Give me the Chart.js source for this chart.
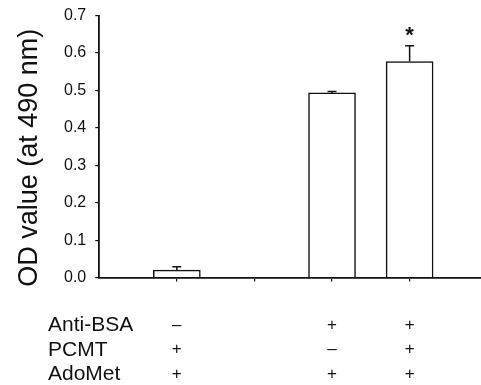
<!DOCTYPE html>
<html>
<head>
<meta charset="utf-8">
<script src="https://cdn.jsdelivr.net/npm/chart.js@4/dist/chart.umd.min.js"></script>
<style>
html,body{margin:0;padding:0;background:#fff;overflow:hidden;}
#wrap{width:481px;height:385px;position:relative;}
</style>
</head>
<body>
<div id="wrap"><canvas id="c" width="481" height="385"></canvas></div>
<script>
// ---- data ----
const groups = ['G1', 'G2', 'G3', 'G4'];
const odValues = [0.02, null, 0.493, 0.577];
const odErrors = [0.009, null, 0.004, 0.042];
const significance = ['', '', '', '*'];
const rowLabels = ['Anti-BSA', 'PCMT', 'AdoMet'];
const antiBSA = ['–', '', '+', '+'];
const pcmt    = ['+', '', '–', '+'];
const adoMet  = ['+', '', '+', '+'];
const yTicks = [0, 0.1, 0.2, 0.3, 0.4, 0.5, 0.6, 0.7];
const yTitle = 'OD value (at 490 nm)';

const conditionRows = [antiBSA, pcmt, adoMet];
const FONT = '"Liberation Sans", Arial, sans-serif';
const INK = '#111';
const X_TICK_LEN = 4, X_TICK_PAD = 31, X_LINE_H = 24.8;

const points = groups.map((g, i) => ({x: i + 1, y: odValues[i]})).filter(p => p.y !== null);

const extras = {
  id: 'extras',
  afterDatasetsDraw(chart) {
    const ctx = chart.ctx, xs = chart.scales.x, ys = chart.scales.y;
    ctx.save();
    ctx.strokeStyle = INK; ctx.fillStyle = INK; ctx.lineWidth = 1.5;
    groups.forEach((g, i) => {
      if (odValues[i] === null) return;
      const x = xs.getPixelForValue(i + 1);
      const y0 = ys.getPixelForValue(odValues[i]);
      const y1 = ys.getPixelForValue(odValues[i] + odErrors[i]);
      ctx.beginPath();
      ctx.moveTo(x, y0); ctx.lineTo(x, y1);
      ctx.moveTo(x - 4.5, y1); ctx.lineTo(x + 4.5, y1);
      ctx.stroke();
      if (significance[i]) {
        ctx.font = 'bold 22px ' + FONT;
        ctx.textAlign = 'center'; ctx.textBaseline = 'middle';
        ctx.fillText(significance[i], x, y1 - 10);
      }
    });
    // row labels of the condition table
    ctx.font = '21px ' + FONT;
    ctx.textAlign = 'left'; ctx.textBaseline = 'middle';
    const top = xs.top + X_TICK_LEN + X_TICK_PAD;
    rowLabels.forEach((t, r) => {
      ctx.fillText(t, 48, top + X_LINE_H * (r + 0.5));
    });
    ctx.restore();
  }
};

new Chart(document.getElementById('c'), {
  type: 'bar',
  data: {
    datasets: [{
      data: points,
      backgroundColor: '#fff',
      borderColor: INK,
      borderWidth: 1.5,
      barThickness: 47
    }]
  },
  options: {
    responsive: false,
    animation: false,
    events: [],
    layout: {padding: {left: 13.8, top: 0, right: 0, bottom: -33}},
    plugins: {legend: {display: false}, tooltip: {enabled: false}},
    scales: {
      x: {
        type: 'linear',
        min: 0, max: 4.92,
        offset: false,
        afterBuildTicks: s => { s.ticks = groups.map((g, i) => ({value: i + 1})); },
        grid: {drawOnChartArea: false, offset: false, tickLength: X_TICK_LEN, color: INK, lineWidth: 1.2},
        border: {display: true, color: INK, width: 1.8},
        ticks: {
          color: INK,
          padding: X_TICK_PAD,
          maxRotation: 0,
          autoSkip: false,
          font: {family: FONT, size: 17, lineHeight: X_LINE_H / 17},
          callback: v => {
            const i = Math.round(v) - 1;
            return conditionRows.map(row => row[i] || ' ');
          }
        }
      },
      y: {
        min: 0, max: 0.7,
        afterBuildTicks: s => { s.ticks = yTicks.map(v => ({value: v})); },
        grid: {drawOnChartArea: false, tickLength: 4, color: INK, lineWidth: 1.2},
        border: {display: true, color: INK, width: 1.8},
        ticks: {
          color: INK, padding: 9,
          font: {family: FONT, size: 16, lineHeight: 0.8},
          callback: v => v.toFixed(1)
        },
        title: {
          display: true, text: yTitle + '\u00a0\u00a0\u00a0', color: INK,
          font: {family: FONT, size: 27, lineHeight: 1.2},
          padding: {top: 0, bottom: 8.8}
        }
      }
    }
  },
  plugins: [extras]
});
</script>
</body>
</html>
